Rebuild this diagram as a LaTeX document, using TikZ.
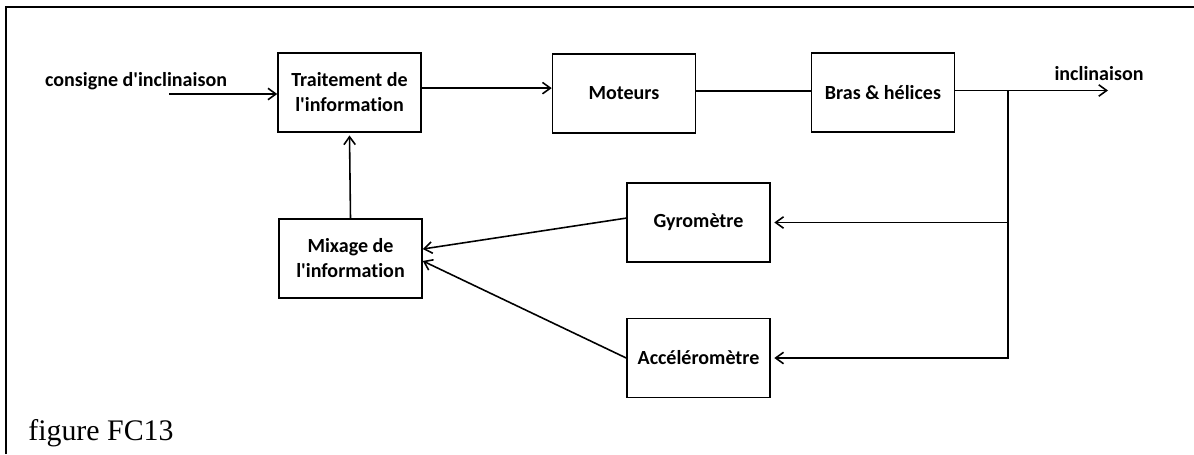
\documentclass[tikz,border=0pt]{standalone}
\usepackage{fontspec}
\setmainfont{Carlito}[Ligatures=NoCommon]
\newfontfamily\legendefont{Liberation Serif}
\usetikzlibrary{arrows.meta,calc}

\tikzset{
  bloc/.style={draw, line width=0.9pt, rectangle, minimum width=2.86cm, minimum height=1.58cm,
    align=center, font=\bfseries\fontsize{11.4}{14.2}\selectfont, inner sep=2pt},
  etiquette/.style={font=\bfseries\fontsize{11.4}{14.2}\selectfont, inner sep=0pt},
  liaison/.style={line width=0.9pt}
}

\begin{document}
\begin{tikzpicture}[ x=0.02cm, y=-0.02cm, >={Straight Barb[length=4.5pt,width=6.5pt]} ]

    \useasboundingbox (0,0) rectangle (1194,454);

% Cadre

    \draw[line width=1.1pt] (6,454) -- (6,7) -- (1194,7);
    \node[anchor=base west, inner sep=0pt, font=\legendefont\fontsize{17}{20}\selectfont] (legende) at (28,440) {figure FC13};

% Blocs

    \node[bloc] (trait) at (349.5, 92.5) {Traitement de\\l\textquotesingle information};
    \node[bloc] (mot)   at (624, 93.5)   {Moteurs};
    \node[bloc] (bras)  at (883, 92.5)   {Bras \& hélices};
    \node[bloc] (gyro)  at (698.5, 222.5) {Gyromètre};
    \node[bloc] (accel) at (698.5, 358)  {Accéléromètre};
    \node[bloc] (mix)   at (350.5, 258.5) {Mixage de\\l\textquotesingle information};

% Entrée et sortie

    \coordinate (entree) at (169, 94);
    \coordinate (jonction) at (1008, 90.5);
    \coordinate (sortie) at (1108, 90.5);
    \node[etiquette, anchor=base] (consigne) at (136, 86) {consigne d\textquotesingle inclinaison};
    \node[etiquette, anchor=base] (incl) at (1099, 80) {inclinaison};

% Chaîne directe

    \draw[liaison, ->] (entree) -- (entree -| trait.west);
    \draw[liaison, ->] ([yshift=2.5pt]trait.east) -- ([yshift=2.5pt]trait.east -| mot.west);
    \draw[liaison] ([yshift=1.5pt]mot.east) -- ([yshift=1.5pt]mot.east -| bras.west);
    \draw[liaison, ->] (bras.east |- jonction) -- (sortie);

% Retour

    \draw[liaison, ->] (jonction) |- ([xshift=2pt]accel.east);
    \draw[liaison, ->] (jonction |- gyro.east) -- ([xshift=2pt]gyro.east);
    \draw[liaison, ->] ([yshift=2.5pt]gyro.west) -- ([yshift=5.4pt]mix.east);
    \draw[liaison, ->] (accel.west) -- ([yshift=-1.4pt]mix.east);
    \draw[liaison, ->] (mix.north) -- ([yshift=-1.5pt]trait.south);

\end{tikzpicture}
\end{document}
